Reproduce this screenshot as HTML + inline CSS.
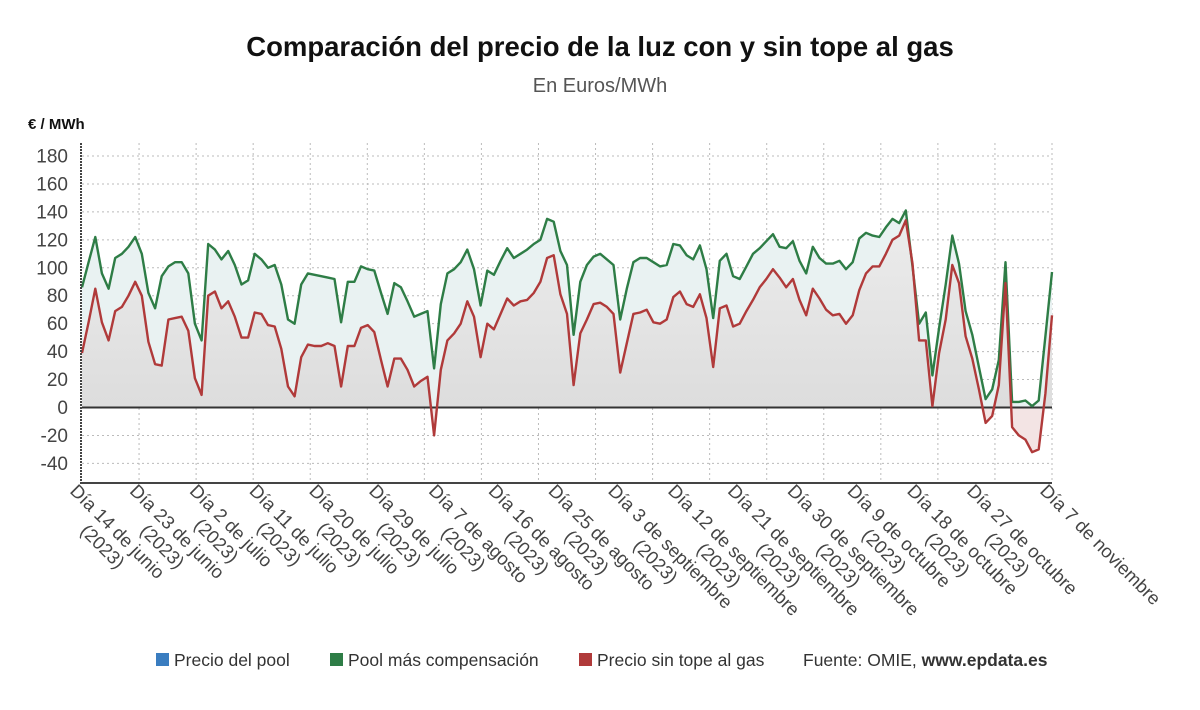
<!DOCTYPE html>
<html><head><meta charset="utf-8"><style>
body{margin:0;background:#fff;width:1200px;height:705px;overflow:hidden;font-family:"Liberation Sans","DejaVu Sans",sans-serif}
svg text{font-family:"Liberation Sans","DejaVu Sans",sans-serif}
</style></head><body>
<svg id="chart" width="1200" height="705" xmlns="http://www.w3.org/2000/svg">
<defs>
<linearGradient id="gGray" x1="0" y1="0" x2="0" y2="1"><stop offset="0" stop-color="#ececec"/><stop offset="1" stop-color="#d9d9d9"/></linearGradient>
<clipPath id="posClip"><rect x="0" y="0" width="1200" height="407.5"/></clipPath>
<clipPath id="negClip"><rect x="0" y="407.5" width="1200" height="300"/></clipPath>
</defs>
<text x="600" y="56" text-anchor="middle" font-size="27.5" font-weight="bold" fill="#111">Comparación del precio de la luz con y sin tope al gas</text>
<text x="600" y="92" text-anchor="middle" font-size="20" fill="#555">En Euros/MWh</text>
<text x="28" y="129" font-size="15" font-weight="bold" fill="#111">€ / MWh</text>
<g id="grid"></g>
<g id="areas"></g>
<g id="lines"></g>
<g id="axes"></g>
<g id="legend">
<rect x="156" y="653" width="13" height="13" fill="#3a7dc0"/>
<text x="174" y="666" font-size="17.5" fill="#333">Precio del pool</text>
<rect x="330" y="653" width="13" height="13" fill="#2e7d46"/>
<text x="348" y="666" font-size="17.5" fill="#333">Pool más compensación</text>
<rect x="579" y="653" width="13" height="13" fill="#b03a3a"/>
<text x="597" y="666" font-size="17.5" fill="#333">Precio sin tope al gas</text>
<text x="803" y="666" font-size="17.5" fill="#333">Fuente: OMIE, <tspan font-weight="bold">www.epdata.es</tspan></text>
</g>
</svg>
<script>
const greenValues=[86,104,122,96,85,107,110,115,122,110,82,71,94,101,104,104,96,60,48,117,113,106,112,102,88,91,110,106,100,102,88,63,60,88,96,95,94,93,92,61,90,90,101,99,98,82,67,89,86,76,65,67,69,28,74,96,99,104,113,99,73,98,95,105,114,107,110,113,117,120,135,133,112,102,52,90,102,108,110,106,102,63,85,104,107,107,104,101,102,117,116,109,106,116,99,64,105,110,94,92,101,110,114,119,124,115,114,119,105,96,115,107,103,103,105,99,104,121,125,123,122,129,135,132,141,101,60,68,23,57,88,123,103,69,52,29,6,13,34,104,4,4,5,1,5,51,97];
const redValues=[39,61,85,61,48,69,72,80,90,80,47,31,30,63,64,65,55,21,9,80,83,71,76,65,50,50,68,67,59,58,42,15,8,36,45,44,44,46,44,15,44,44,57,59,54,34,15,35,35,27,15,19,22,-20,27,48,53,60,76,65,36,60,56,67,78,73,76,77,82,90,107,109,81,67,16,53,63,74,75,72,67,25,46,67,68,70,61,60,63,79,83,74,72,81,64,29,71,73,58,60,69,77,86,92,99,93,86,92,77,66,85,78,70,66,67,60,66,84,96,101,101,110,120,123,134,103,48,48,1,39,63,102,89,51,35,13,-11,-6,16,89,-14,-20,-23,-32,-30,10,66];
const yTicks=[180,160,140,120,100,80,60,40,20,0,-20,-40];
const xTickLabels=["Día 14 de junio","Día 23 de junio","Día 2 de julio","Día 11 de julio","Día 20 de julio","Día 29 de julio","Día 7 de agosto","Día 16 de agosto","Día 25 de agosto","Día 3 de septiembre","Día 12 de septiembre","Día 21 de septiembre","Día 30 de septiembre","Día 9 de octubre","Día 18 de octubre","Día 27 de octubre","Día 7 de noviembre"];
const xTickDays=[0,9,18,27,36,45,54,63,72,81,90,99,108,117,126,135,146];

const NS="http://www.w3.org/2000/svg";
const X0=82,X1=1052,YTOP=143,YBOT=483;
const n=greenValues.length;
function xs(i){return X0+(X1-X0)*i/(n-1);}
function ys(v){return 407.5-v*(251.5/180);}
function mk(tag,attrs,parent){const e=document.createElementNS(NS,tag);for(const k in attrs)e.setAttribute(k,attrs[k]);parent.appendChild(e);return e;}
const grid=document.getElementById('grid'),areas=document.getElementById('areas'),lines=document.getElementById('lines'),axes=document.getElementById('axes');
yTicks.forEach(v=>{
  const l=mk('line',{x1:X0,x2:X1,y1:ys(v),y2:ys(v),stroke:'#bbb','stroke-width':1,'stroke-dasharray':'2,3'},grid);
  
  
  const t=mk('text',{x:68,y:ys(v)+6.5,'text-anchor':'end','font-size':19,fill:'#444'},axes);
  t.textContent=v;
  
  
});
for(let k=1;k<=17;k++){
  const gx=X0+(X1-X0)*k/17;
  const l=mk('line',{x1:gx,x2:gx,y1:YTOP,y2:YBOT,stroke:'#bbb','stroke-width':1,'stroke-dasharray':'2,3'},grid);
  
  
}
function pts(arr){return arr.map((v,i)=>xs(i).toFixed(1)+','+ys(v).toFixed(1)).join(' ');}
const zeroY=ys(0);
const gArea=mk('polygon',{points:X0+','+zeroY+' '+pts(greenValues)+' '+X1+','+zeroY,fill:'#e9f2f2','clip-path':'url(#posClip)'},areas);


const rArea=mk('polygon',{points:X0+','+zeroY+' '+pts(redValues)+' '+X1+','+zeroY,fill:'url(#gGray)','clip-path':'url(#posClip)'},areas);


const rNeg=mk('polygon',{points:X0+','+zeroY+' '+pts(redValues)+' '+X1+','+zeroY,fill:'#f3e4e4','clip-path':'url(#negClip)'},areas);


const zl=mk('line',{x1:X0,x2:X1,y1:zeroY,y2:zeroY,stroke:'#333','stroke-width':2},lines);


const gl=mk('polyline',{points:pts(greenValues),fill:'none',stroke:'#2e7d46','stroke-width':2.4,'stroke-linejoin':'round'},lines);


const rl=mk('polyline',{points:pts(redValues),fill:'none',stroke:'#b03a3a','stroke-width':2.4,'stroke-linejoin':'round'},lines);


const ya=mk('line',{x1:X0-1,x2:X0-1,y1:YTOP,y2:YBOT,stroke:'#444','stroke-width':2,'stroke-dasharray':'2,1'},axes);


const xa=mk('line',{x1:X0-2,x2:X1,y1:YBOT,y2:YBOT,stroke:'#444','stroke-width':2},axes);


xTickLabels.forEach((lab,k)=>{
  const tx=xs(xTickDays[k]);
  const g=mk('g',{transform:'translate('+(tx-13)+',492) rotate(45)'},axes);
  
  
  const t1=mk('text',{x:0,y:0,'font-size':18.5,fill:'#444'},g);
  t1.textContent=lab;
  if(k<xTickLabels.length-1){
    const w=t1.getComputedTextLength();
    const t2=mk('text',{x:w/2,y:21,'font-size':18.5,fill:'#444','text-anchor':'middle'},g);
    t2.textContent='(2023)';
  }
});
</script>
</body></html>
